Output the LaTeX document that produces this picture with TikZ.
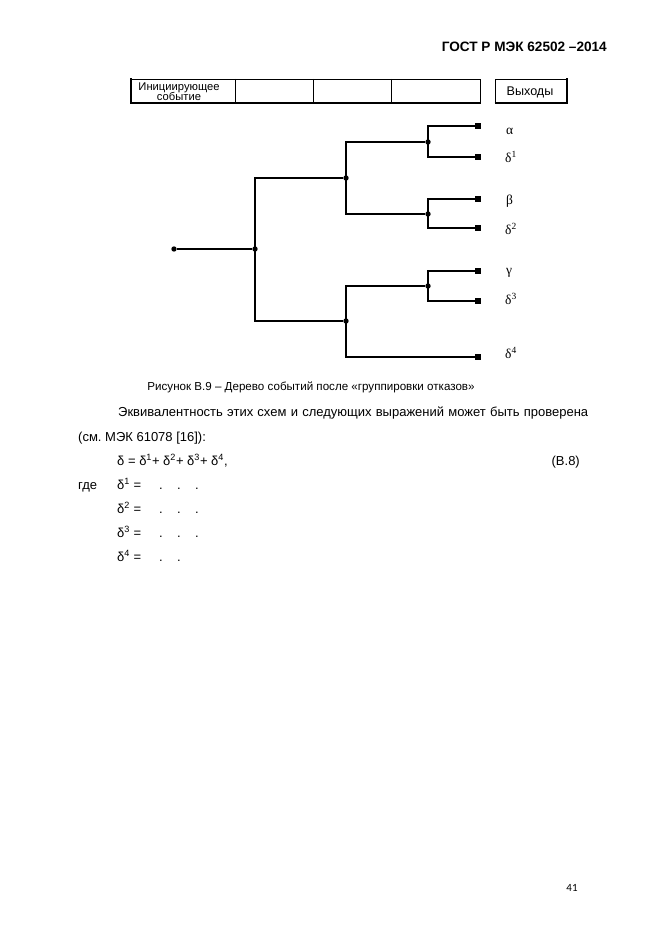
\documentclass[tikz,border=0pt]{standalone}
\usepackage{fontspec}
\setmainfont{Liberation Sans}
\newfontfamily\serifgr{Liberation Serif}
\newfontfamily\pagefont{Carlito}
\frenchspacing
\begin{document}
\begin{tikzpicture}[x=1pt,y=-1pt,
  body/.style={font=\fontsize{13}{15}\selectfont, inner sep=0pt, anchor=base west},
  dot/.style={circle, fill=black, inner sep=0pt, minimum size=5.4pt},
  leaf/.style={rectangle, fill=black, inner sep=0pt, minimum size=6.4pt},
  lab/.style={font=\serifgr\fontsize{13.5}{15}\selectfont, inner sep=0pt, anchor=west},
  tree/.style={line width=1.1pt},
  cell/.style={font=\fontsize{11.2}{12}\selectfont, inner sep=0pt, align=center}
]
\useasboundingbox (0,0) rectangle (661,936);

% header
\node[font=\bfseries\fontsize{13.6}{15}\selectfont, inner sep=0pt, anchor=base east] (hdr) at (607,52) {ГОСТ Р МЭК 62502 –2014};

% table row
\draw[line width=0.9pt] (131,79) rectangle (480,103);
\draw[line width=2pt] (131,78.5) -- (131,104);
\draw[line width=2pt] (130,103) -- (480.5,103);
\draw[line width=0.9pt] (235,79) -- (235,103) (313,79) -- (313,103) (391,79) -- (391,103);
\node[cell] (init) at (179,91.5) {Инициирующее\\[-1.5pt]событие};
\draw[line width=0.9pt] (495,79) rectangle (567,103);
\draw[line width=2pt] (567,78.5) -- (567,104);
\draw[line width=2pt] (494.5,103) -- (568,103);
\node[font=\fontsize{12.6}{14}\selectfont, inner sep=0pt] (out) at (530,92) {Выходы};

% tree nodes
\node[dot] (r) at (174,249) {};
\node[dot] (j0) at (255,249) {};
\node[dot] (a) at (346,178) {};
\node[dot] (b) at (346,321) {};
\node[dot] (a1) at (428,142) {};
\node[dot] (a2) at (428,214) {};
\node[dot] (b1) at (428,286) {};
\node[leaf] (l1) at (478,126) {};
\node[leaf] (l2) at (478,157) {};
\node[leaf] (l3) at (478,199) {};
\node[leaf] (l4) at (478,228) {};
\node[leaf] (l5) at (478,271) {};
\node[leaf] (l6) at (478,301) {};
\node[leaf] (l7) at (478,357) {};

% connectors
\draw[tree] (r) -- (j0);
\draw[tree] (j0.center) |- (a);
\draw[tree] (j0.center) |- (b);
\draw[tree] (a.center) |- (a1);
\draw[tree] (a.center) |- (a2);
\draw[tree] (b.center) |- (b1);
\draw[tree] (b.center) |- (l7);
\draw[tree] (a1.center) |- (l1);
\draw[tree] (a1.center) |- (l2);
\draw[tree] (a2.center) |- (l3);
\draw[tree] (a2.center) |- (l4);
\draw[tree] (b1.center) |- (l5);
\draw[tree] (b1.center) |- (l6);

% leaf labels
\node[lab] (t1) at (506,131) {α};
\node[lab] (t2) at (505,157) {δ\textsuperscript{1}};
\node[lab] (t3) at (506,201) {β};
\node[lab] (t4) at (505,229) {δ\textsuperscript{2}};
\node[lab] (t5) at (506,273) {γ};
\node[lab] (t6) at (505,299) {δ\textsuperscript{3}};
\node[lab] (t7) at (505,353) {δ\textsuperscript{4}};

% caption and text
\node[font=\fontsize{11.6}{14}\selectfont, inner sep=0pt, anchor=base] (cap) at (311,390) {Рисунок В.9 – Дерево событий после «группировки отказов»};
\node[body] (p1) at (118,416) {\makebox[470pt][s]{Эквивалентность этих схем и следующих выражений может быть проверена}};
\node[body] (p2) at (78,441) {(см. МЭК 61078 [16]):};
\node[body] (f0) at (117,465) {δ = δ\textsuperscript{1}+ δ\textsuperscript{2}+ δ\textsuperscript{3}+ δ\textsuperscript{4},};
\node[body, anchor=base east] (eq) at (580,465) {(В.8)};
\node[body] (gde) at (78,489) {где};
\node[body] (d1) at (117,489) {δ\textsuperscript{1} =};
\node[body] (d2) at (117,513) {δ\textsuperscript{2} =};
\node[body] (d3) at (117,537) {δ\textsuperscript{3} =};
\node[body] (d4) at (117,561) {δ\textsuperscript{4} =};
\foreach \yy/\nn in {489/3,513/3,537/3,561/2}{
  \foreach \xx [count=\k] in {159,177,195}{
    \ifnum\k>\nn\else
      \node[body] at (\xx,\yy) {.};
    \fi
  }
}

% page number
\node[font=\pagefont\fontsize{11}{13}\selectfont, inner sep=0pt, anchor=base] (pg) at (572,891) {41};
\end{tikzpicture}
\end{document}
